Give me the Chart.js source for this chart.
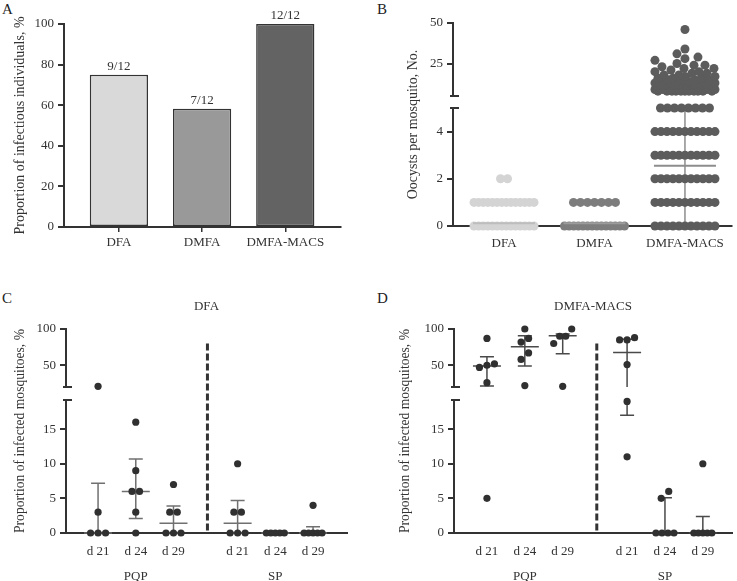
<!DOCTYPE html>
<html lang="en">
<head>
<meta charset="utf-8">
<title>Infectivity panels</title>
<script src="https://cdn.jsdelivr.net/npm/chart.js@4.4.1/dist/chart.umd.min.js"></script>
<style>
  html, body { margin: 0; padding: 0; background: #fff; }
  #fig { position: relative; width: 737px; height: 581px; overflow: hidden; font-family: "Liberation Serif", "Times New Roman", serif; color: #222; }
  #fig canvas { position: absolute; }
  .tag { position: absolute; font-size: 15px; line-height: 15px; }
</style>
</head>
<body>
<div id="fig">
  <div class="tag" style="left:2px; top:2px">A</div>
  <div class="tag" style="left:377px; top:2px">B</div>
  <div class="tag" style="left:2px; top:291px">C</div>
  <div class="tag" style="left:377px; top:291px">D</div>
  <canvas id="chartA" width="370" height="260" style="left:0; top:0"></canvas>
  <canvas id="chartB" width="367" height="260" style="left:370px; top:0"></canvas>
  <canvas id="chartC" width="370" height="291" style="left:0; top:290px"></canvas>
  <canvas id="chartD" width="367" height="291" style="left:370px; top:290px"></canvas>
</div>
<script>
// ---------- data ----------
// A: proportion of infectious individuals
const aGroups = ['DFA', 'DMFA', 'DMFA-MACS'];
const aPercent = [75, 58.3, 100];
const aFractions = ['9/12', '7/12', '12/12'];
const aTicks = [0, 20, 40, 60, 80, 100];

// B: dots shown per oocyst count (array index = oocysts per mosquito)
const bGroups = ['DFA', 'DMFA', 'DMFA-MACS'];
const bDfaDots = [14, 14, 2];
const bDmfaDots = [14, 7];
const bMacsDots = [11, 11, 11, 11, 11, 8, 0, 0, 11, 11, 10, 9, 8, 6, 4, 3, 3, 2, 2, 2,
                   2, 1, 2, 1, 2, 1, 0, 1, 1, 1, 0, 1, 0, 0, 1, 0, 0, 0, 0, 0,
                   0, 0, 0, 0, 0, 0, 1];
const bMean = [0.12, 0.12, 2.55];
const bSdLow = [0.12, 0.12, 0];
const bSdHigh = [0.12, 0.12, 5];
const bBreak = 5;
const bLowTicks = [0, 1, 2, 3, 4, 5];
const bHighTicks = [25, 50];

// C, D: proportion of infected mosquitoes per feed
const days = ['d 21', 'd 24', 'd 29', 'd 21', 'd 24', 'd 29'];
const drugs = ['PQP', 'SP'];
const cValues = [
  [0, 0, 0, 3, 21],
  [0, 3, 6, 6, 9, 16],
  [0, 0, 0, 3, 3, 7],
  [0, 0, 0, 3, 3, 10],
  [0, 0, 0, 0, 0],
  [0, 0, 0, 0, 0, 4]
];
const cMid = [0, 6, 1.4, 1.4, 0, 0];
const cLow = [0, 2.1, 0, 0, 0, 0];
const cHigh = [7.2, 10.7, 3.9, 4.7, 0, 0.9];
const dValues = [
  [87, 52, 47, 50, 26, 5],
  [100, 82, 87, 67, 58, 22],
  [100, 90, 90, 80, 21],
  [85, 85, 88, 51, 19, 11],
  [0, 0, 0, 0, 6, 5],
  [0, 0, 0, 0, 0, 10]
];
const dMid = [49, 75.5, 90.7, 67.6, 0, 0];
const dLow = [21.3, 49, 66, 17, 0, 0];
const dHigh = [61.6, 90.7, 93, 86, 5.1, 2.4];
const cdLowTicks = [0, 5, 10, 15];
const cdHighTicks = [50, 100];

// ---------- common look ----------
Chart.defaults.font.family = '"Liberation Serif", "Times New Roman", serif';
Chart.defaults.font.size = 13;
Chart.defaults.color = '#333';
Chart.defaults.animation = false;
Chart.defaults.plugins.legend.display = false;
Chart.defaults.plugins.tooltip.enabled = false;

const ink = '#333';
const groupGap = 0.7;

function yAxis(stack, weight, min, max, ticks, width) {
  return {
    type: 'linear', axis: 'y', position: 'left', stack: stack, stackWeight: weight,
    min: min, max: max,
    grid: { drawOnChartArea: false, tickLength: 6, color: ink, lineWidth: 2 },
    border: { color: ink, width: 2 },
    ticks: { padding: 4, callback: v => String(v) },
    afterBuildTicks: s => { s.ticks = ticks.map(v => ({ value: v })); },
    afterFit: s => { s.width = width; }
  };
}

function gapAxis(stack, weight, width) {
  return {
    type: 'linear', axis: 'y', position: 'left', stack: stack, stackWeight: weight,
    grid: { display: false }, ticks: { display: false }, border: { display: false },
    afterFit: s => { s.width = width; }
  };
}

// small caps across the axis at both sides of the break
const breakMarks = {
  id: 'breakMarks',
  afterDraw(chart) {
    const hi = chart.scales.yHigh, lo = chart.scales.yLow;
    const x = chart.chartArea.left;
    const ctx = chart.ctx;
    ctx.save();
    ctx.strokeStyle = ink;
    ctx.lineWidth = 2;
    ctx.beginPath();
    ctx.moveTo(x - 3, hi.bottom); ctx.lineTo(x + 6, hi.bottom);
    ctx.moveTo(x - 3, lo.top); ctx.lineTo(x + 6, lo.top);
    ctx.stroke();
    ctx.restore();
  }
};

// dashed line separating the two drugs
const divider = {
  id: 'divider',
  afterDatasetsDraw(chart, args, opts) {
    const x = chart.scales.x.getPixelForValue(opts.at);
    const y0 = chart.scales.yHigh.getPixelForValue(opts.from);
    const y1 = chart.scales.yLow.getPixelForValue(0);
    const ctx = chart.ctx;
    ctx.save();
    ctx.strokeStyle = ink;
    ctx.lineWidth = 3;
    ctx.setLineDash([7, 3]);
    ctx.beginPath();
    ctx.moveTo(x, y0); ctx.lineTo(x, y1);
    ctx.stroke();
    ctx.restore();
  }
};

const barLabels = {
  id: 'barLabels',
  afterDatasetsDraw(chart) {
    const ctx = chart.ctx;
    ctx.save();
    ctx.fillStyle = ink;
    ctx.font = '13px "Liberation Serif", serif';
    ctx.textAlign = 'center';
    ctx.textBaseline = 'bottom';
    chart.getDatasetMeta(0).data.forEach((bar, i) => ctx.fillText(aFractions[i], bar.x, bar.y - 2));
    ctx.restore();
  }
};

// ---------- A ----------
new Chart(document.getElementById('chartA'), {
  type: 'bar',
  data: {
    datasets: [{
      data: aGroups.map((g, i) => ({ x: i + 1, y: aPercent[i] })),
      backgroundColor: ['#d9d9d9', '#999999', '#636363'],
      borderColor: ink,
      borderWidth: 1.5,
      borderSkipped: false,
      categoryPercentage: 1,
      barPercentage: 0.7
    }]
  },
  options: {
    responsive: false,
    layout: { padding: { top: 24, right: 29, bottom: 0, left: 0 } },
    scales: {
      x: {
        type: 'linear', min: 0.34, max: 3.67, offset: false,
        grid: { drawOnChartArea: false, offset: false, tickLength: 5, color: ink, lineWidth: 1.5 },
        border: { color: ink, width: 2 },
        ticks: { padding: 3.2, callback: (v, i) => aGroups[i] },
        afterBuildTicks: s => { s.ticks = aGroups.map((g, i) => ({ value: i + 1 })); },
        afterFit: s => { s.height = 33; }
      },
      y: {
        min: 0, max: 100,
        grid: { drawOnChartArea: false, tickLength: 6, color: ink, lineWidth: 2 },
        border: { color: ink, width: 2 },
        ticks: { padding: 4 },
        afterBuildTicks: s => { s.ticks = aTicks.map(v => ({ value: v })); },
        title: {
          display: true, text: 'Proportion of infectious individuals, %',
          font: { size: 14 }, padding: { top: 11.6, bottom: 0 }
        },
        afterFit: s => { s.width = 64; }
      }
    }
  },
  plugins: [barLabels]
});

// ---------- B ----------
const bLay = { xMin: 0.436, xMax: 3.52, plotW: 279, high: 73, gap: 12, low: 118, highMax: 50 };
const bPxPerX = bLay.plotW / (bLay.xMax - bLay.xMin);
const bPxPerHigh = bLay.high / (bLay.highMax - bBreak);
const bColors = ['#d4d4d4', '#7d7d7d', '#5c5c5c'];
const bMeanColors = ['#bdbdbd', '#9b9b9b', '#8d8d8d'];

// lower part: one compressed row per oocyst count
function rowDots(counts, center) {
  const pts = [];
  counts.forEach((n, v) => {
    if (!n || v > bBreak) return;
    const step = Math.min(7, 60 / Math.max(n - 1, 1)) / bPxPerX;
    for (let k = 0; k < n; k++) pts.push({ x: center + (k - (n - 1) / 2) * step, y: v });
  });
  return pts;
}

// upper part: beeswarm, dots pushed sideways within +-30 px
function swarmDots(counts, center) {
  const vals = [];
  counts.forEach((n, v) => { if (v > bBreak) for (let k = 0; k < n; k++) vals.push(v); });
  const diam = 9, maxHalf = 30;
  const placed = [];
  vals.forEach(v => {
    const y = v * bPxPerHigh;
    let best = 0, bestScore = -1;
    for (let dx = 0; dx <= maxHalf; dx++) {
      for (const s of (dx ? [-dx, dx] : [0])) {
        let md = Infinity;
        placed.forEach(p => {
          if (Math.abs(p.y - y) < diam) md = Math.min(md, Math.hypot(s - p.dx, y - p.y));
        });
        const score = Math.min(md, diam);
        if (score > bestScore + 0.01) { bestScore = score; best = s; }
      }
      if (bestScore >= diam) break;
    }
    placed.push({ dx: best, y: y, v: v });
  });
  return placed.map(p => ({ x: center + p.dx / bPxPerX, y: p.v }));
}

const bSets = [];
[bDfaDots, bDmfaDots, bMacsDots].forEach((counts, g) => {
  const c = g + 1;
  const half = 31 / bPxPerX;
  bSets.push({ data: [{ x: c - half, y: bMean[g] }, { x: c + half, y: bMean[g] }], yAxisID: 'yLow',
    showLine: true, pointRadius: 0, borderColor: bMeanColors[g], borderWidth: 2, order: 0, clip: false });
  bSets.push({ data: rowDots(counts, c), yAxisID: 'yLow',
    backgroundColor: bColors[g], pointRadius: 4.5, pointBorderWidth: 0, order: 1, clip: false });
  bSets.push({ data: swarmDots(counts, c), yAxisID: 'yHigh',
    backgroundColor: bColors[g], pointRadius: 4.5, pointBorderWidth: 0, order: 1, clip: false });
  bSets.push({ data: [{ x: c, y: bSdLow[g] }, { x: c, y: Math.min(bSdHigh[g], bBreak) }], yAxisID: 'yLow',
    showLine: true, pointRadius: 0, borderColor: '#8d8d8d', borderWidth: 1.5, order: 2, clip: false });
});

new Chart(document.getElementById('chartB'), {
  type: 'scatter',
  data: { datasets: bSets },
  options: {
    responsive: false,
    layout: { padding: { top: 23, right: 5, bottom: 0, left: 0 } },
    plugins: {
      title: {
        display: true, position: 'left', fullSize: false, text: 'Oocysts per mosquito, No.',
        font: { size: 14, weight: 'normal' }, color: ink, padding: { top: 34.6, bottom: 0 }
      }
    },
    scales: {
      x: {
        type: 'linear', min: bLay.xMin, max: bLay.xMax,
        grid: { drawOnChartArea: false, tickLength: 4, color: ink, lineWidth: 1.5 },
        border: { color: ink, width: 2 },
        ticks: { padding: 6, callback: (v, i) => bGroups[i] },
        afterBuildTicks: s => { s.ticks = bGroups.map((g, i) => ({ value: i + 1 })); },
        afterFit: s => { s.height = 34; }
      },
      yLow: yAxis('b', bLay.low, 0, bBreak, bLowTicks, 31.6),
      yGap: gapAxis('b', bLay.gap, 31.6),
      yHigh: yAxis('b', bLay.high, bBreak, bLay.highMax, bHighTicks, 31.6)
    }
  },
  plugins: [breakMarks]
});

// ---------- C and D ----------
const segH = { high: 58, gap: 13, low: 133 };
const segs = {
  high: { min: 20, max: 100, px: segH.high },
  low: { min: 0, max: 19.2, px: segH.low }
};
const catPos = i => i + 1 + (i >= 3 ? groupGap : 0);

function swarm(values, center, seg, pxPerX) {
  // values closer than one dot are spread sideways
  const vals = values.filter(v => v >= seg.min && v <= seg.max).sort((a, b) => a - b);
  const tol = 8 / (seg.px / (seg.max - seg.min));
  const pts = [];
  let group = [];
  const flush = () => {
    const n = group.length;
    const step = Math.min(7.5, 18 / Math.max(n - 1, 1)) / pxPerX;
    group.forEach((v, k) => pts.push({ x: center + (k - (n - 1) / 2) * step, y: v }));
    group = [];
  };
  vals.forEach(v => {
    if (group.length && v - group[group.length - 1] > tol) flush();
    group.push(v);
  });
  if (group.length) flush();
  return pts;
}

function errorBars(mid, low, high, seg, pxPerX) {
  const capHalf = 7 / pxPerX, midHalf = 14 / pxPerX;
  const pts = [];
  mid.forEach((m, i) => {
    const c = catPos(i);
    const lo = Math.max(low[i], seg.min), hi = Math.min(high[i], seg.max);
    if (hi > lo) pts.push({ x: c, y: lo }, { x: c, y: hi }, { x: c, y: null });
    [low[i], high[i]].forEach(v => {
      if (v !== m && v >= seg.min && v <= seg.max)
        pts.push({ x: c - capHalf, y: v }, { x: c + capHalf, y: v }, { x: c, y: null });
    });
    if (m >= seg.min && m <= seg.max)
      pts.push({ x: c - midHalf, y: m }, { x: c + midHalf, y: m }, { x: c, y: null });
  });
  return pts;
}

function mosquitoChart(id, heading, values, mid, low, high, lay) {
  const pxPerX = lay.plotW / (lay.xMax - lay.xMin);
  const sets = [];
  ['high', 'low'].forEach(part => {
    const axisId = part === 'high' ? 'yHigh' : 'yLow';
    sets.push({
      data: values.flatMap((vals, i) => swarm(vals, catPos(i), segs[part], pxPerX)),
      yAxisID: axisId, backgroundColor: '#303030', pointRadius: 3.6, pointBorderWidth: 0, order: 0, clip: false
    });
    sets.push({
      data: errorBars(mid, low, high, segs[part], pxPerX),
      yAxisID: axisId, showLine: true, pointRadius: 0, borderColor: lay.barColor, borderWidth: 1.5,
      order: 1, clip: false
    });
  });

  return new Chart(document.getElementById(id), {
    type: 'scatter',
    data: { datasets: sets },
    options: {
      responsive: false,
      layout: { padding: { top: 0, right: lay.right, bottom: 0, left: 0 } },
      plugins: {
        subtitle: {
          display: true, position: 'top', fullSize: false, text: heading,
          font: { size: 13, weight: 'normal' }, color: ink, padding: { top: 9.2, bottom: 14.2 }
        },
        title: {
          display: true, position: 'left', fullSize: false, text: 'Proportion of infected mosquitoes, %',
          font: { size: 14, weight: 'normal' }, color: ink, padding: { top: lay.titlePad, bottom: 0 }
        },
        divider: { at: 3.9, from: 80 }
      },
      scales: {
        x: {
          type: 'linear', min: lay.xMin, max: lay.xMax,
          grid: { display: false },
          border: { color: ink, width: 2 },
          ticks: {
            padding: -1.5, autoSkip: false, maxRotation: 0, font: { lineHeight: 25 / 13 },
            callback: (v, i) => i % 3 === 1 ? [days[i], drugs[(i - 1) / 3]] : days[i]
          },
          afterBuildTicks: s => { s.ticks = days.map((d, i) => ({ value: catPos(i) })); },
          afterFit: s => { s.height = 48; }
        },
        yLow: yAxis('cd', segH.low, segs.low.min, segs.low.max, cdLowTicks, lay.axisW),
        yGap: gapAxis('cd', segH.gap, lay.axisW),
        yHigh: yAxis('cd', segH.high, segs.high.min, segs.high.max, cdHighTicks, lay.axisW)
      }
    },
    plugins: [breakMarks, divider]
  });
}

mosquitoChart('chartC', 'DFA', cValues, cMid, cLow, cHigh,
  { xMin: 0.15, xMax: 7.6, plotW: 281, right: 23, titlePad: 11.6, axisW: 37.6, barColor: '#707070' });
mosquitoChart('chartD', 'DMFA-MACS', dValues, dMid, dLow, dHigh,
  { xMin: 0.13, xMax: 7.47, plotW: 278, right: 5, titlePad: 26.6, axisW: 40.6, barColor: '#4a4a4a' });
</script>
</body>
</html>
